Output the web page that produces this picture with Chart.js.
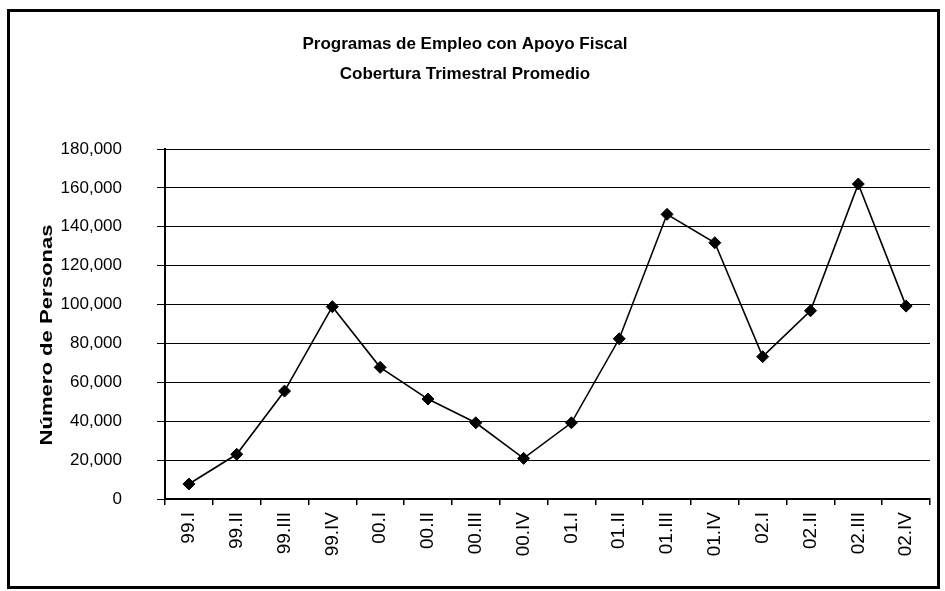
<!DOCTYPE html>
<html>
<head>
<meta charset="utf-8">
<script src="https://cdn.jsdelivr.net/npm/chart.js@4/dist/chart.umd.min.js"></script>
<style>
  html, body { margin: 0; padding: 0; background: #ffffff; }
  #wrap { position: relative; width: 945px; height: 591px; }
</style>
</head>
<body>
<div id="wrap"><canvas id="coberturaChart" width="945" height="591"></canvas></div>
<script>
// Datos
const trimestres = ['99.I', '99.II', '99.III', '99.IV', '00.I', '00.II', '00.III', '00.IV',
                    '01.I', '01.II', '01.III', '01.IV', '02.I', '02.II', '02.III', '02.IV'];
const personas = [7700, 23000, 55500, 98900, 67700, 51400, 39200, 20900,
                  39200, 82400, 146400, 131800, 73200, 96800, 162000, 99200];
const tituloLineas = ['Programas de Empleo con Apoyo Fiscal', 'Cobertura Trimestral Promedio'];
const tituloEjeY = 'Número de Personas';
const yMin = 0;
const yMax = 180000;
const yPaso = 20000;

const FONT = '"Liberation Sans", Arial, sans-serif';

// marco exterior + titulo vertical del eje Y
const extrasPlugin = {
    id: 'extras',
    afterDraw(chart) {
        const ctx = chart.ctx;
        ctx.save();
        ctx.strokeStyle = '#000000';
        ctx.lineWidth = 3;
        ctx.strokeRect(8.5, 10.5, 930, 577);
        ctx.restore();

        ctx.save();
        ctx.translate(47, 335);
        ctx.rotate(-Math.PI / 2);
        ctx.scale(1.3, 1);
        ctx.font = 'bold 17px ' + FONT;
        ctx.fillStyle = '#000000';
        ctx.textAlign = 'center';
        ctx.textBaseline = 'middle';
        ctx.fillText(tituloEjeY, 0, 0);
        ctx.restore();
    }
};

const ctx = document.getElementById('coberturaChart').getContext('2d');

new Chart(ctx, {
    type: 'line',
    data: {
        labels: trimestres,
        datasets: [{
            label: 'Cobertura',
            data: personas,
            borderColor: '#000000',
            backgroundColor: '#000000',
            borderWidth: 1.6,
            tension: 0,
            pointStyle: 'rectRot',
            pointRadius: 6,
            pointBorderWidth: 1,
            pointBackgroundColor: '#000000',
            pointBorderColor: '#000000'
        }]
    },
    options: {
        responsive: false,
        animation: false,
        layout: {
            padding: { left: 0, right: 15, top: 0, bottom: 0 }
        },
        plugins: {
            legend: { display: false },
            tooltip: { enabled: false },
            title: {
                display: true,
                text: tituloLineas,
                color: '#000000',
                font: { family: FONT, size: 17, weight: 'bold', lineHeight: 30 / 17 },
                padding: { top: 29, bottom: 60 }
            }
        },
        scales: {
            x: {
                type: 'category',
                offset: true,
                afterFit: (scale) => { scale.height = 92; },
                grid: {
                    drawOnChartArea: false,
                    offset: true,
                    color: '#000000',
                    tickLength: 6,
                    lineWidth: 1.5
                },
                border: { color: '#000000', width: 2 },
                ticks: {
                    autoSkip: false,
                    minRotation: 90,
                    maxRotation: 90,
                    padding: 7,
                    color: '#000000',
                    font: { family: FONT, size: 19 }
                }
            },
            y: {
                min: yMin,
                max: yMax,
                afterFit: (scale) => { scale.width = 165; },
                grid: {
                    color: '#000000',
                    lineWidth: 1,
                    tickLength: 8
                },
                border: { color: '#000000', width: 2 },
                ticks: {
                    stepSize: yPaso,
                    padding: 35,
                    color: '#000000',
                    font: { family: FONT, size: 17 },
                    callback: (v) => v.toLocaleString('en-US')
                }
            }
        }
    },
    plugins: [extrasPlugin]
});
</script>
</body>
</html>
